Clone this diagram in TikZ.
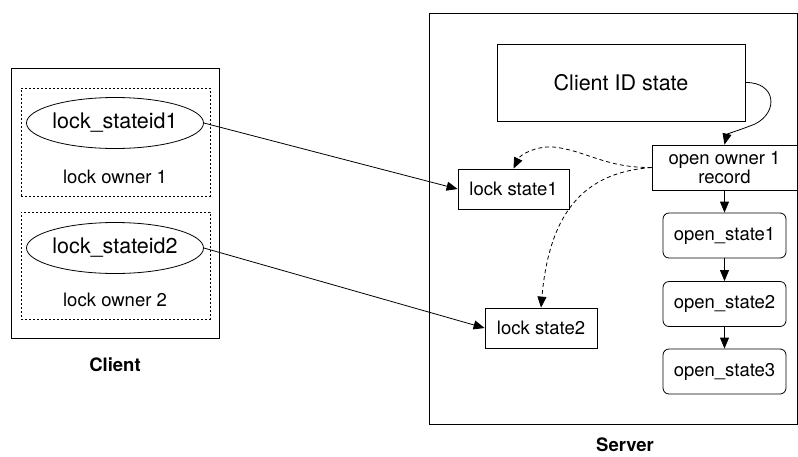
\documentclass[tikz,border=0pt]{standalone}
\usepackage{fontspec}
\setmainfont{TeX Gyre Heros}
\usepackage{tikz}
\usetikzlibrary{shapes.geometric, arrows.meta}

\begin{document}
\begin{tikzpicture}[x=1pt, y=-1pt,
  caja/.style={draw, line width=0.8pt, inner sep=0pt, font=\fontsize{18.5}{21}\selectfont},
  marco/.style={draw, line width=1pt, inner sep=0pt},
  dueno/.style={draw, dashed, dash pattern=on 2pt off 2pt, line width=0.8pt, inner sep=0pt, minimum width=189pt},
  elipse/.style={draw, ellipse, line width=0.8pt, inner sep=0pt, minimum width=177pt, minimum height=51pt, font=\fontsize{21.5}{24}\selectfont},
  texto/.style={inner sep=0pt, font=\fontsize{18.5}{21}\selectfont},
  estado/.style={caja, rounded corners=6pt, minimum width=123pt, minimum height=45pt},
  flecha/.style={-{Triangle[length=11pt, width=9pt]}, line width=0.8pt},
  flechap/.style={flecha, dashed, dash pattern=on 4pt off 3pt}]

\useasboundingbox (0,0) rectangle (798,456);

% Cliente
\node[marco, minimum width=208pt, minimum height=270pt] (client) at (115,203) {};
\node[dueno, minimum height=108pt] (owner1) at (115.5,142) {};
\node[dueno, minimum height=107pt] (owner2) at (115.5,265.5) {};
\node[elipse] (sid1) at (115,123) {lock\_stateid1};
\node[elipse] (sid2) at (115,248) {lock\_stateid2};
\node[texto] (lo1) at (115,177) {lock owner 1};
\node[texto] (lo2) at (115,300) {lock owner 2};
\node[texto, font=\fontsize{18.5}{21}\selectfont\bfseries] (clientlbl) at (115,365) {Client};

% Servidor
\node[marco, minimum width=368pt, minimum height=411pt] (server) at (613,218.5) {};
\node[texto, font=\fontsize{18.5}{21}\selectfont\bfseries] (serverlbl) at (625,445) {Server};
\node[caja, minimum width=248pt, minimum height=77pt, font=\fontsize{21.5}{24}\selectfont] (cid) at (621,82.5) {Client ID state};
\node[caja, minimum width=145pt, minimum height=45pt, align=center] (oor) at (724.5,167.5) {open owner 1\\[-2pt]record};
\node[caja, minimum width=111pt, minimum height=40pt] (ls1) at (513.5,189) {lock state1};
\node[caja, minimum width=112pt, minimum height=40pt] (ls2) at (541,328) {lock state2};
\node[estado] (os1) at (724.5,235.5) {open\_state1};
\node[estado] (os2) at (724.5,304) {open\_state2};
\node[estado] (os3) at (724.5,371.5) {open\_state3};

% Flechas
\draw[flecha] (sid1.east) -- (ls1.west);
\draw[flecha] (sid2.east) -- (ls2.west);
\draw[flecha] (cid.east) .. controls (776,82) and (779,112) .. (755,124)
  .. controls (740,130) and (727,134) .. (oor.north);
\draw[flecha] (oor.south) -- (os1.north);
\draw[flecha] (os1.south) -- (os2.north);
\draw[flecha] (os2.south) -- (os3.north);
\draw[flechap] (oor.west) .. controls (605,168) and (585,150) .. (553,147)
  .. controls (535,146) and (520,155) .. (ls1.north);
\draw[flechap] (oor.west) .. controls (590,172) and (550,205) .. (ls2.north);

\end{tikzpicture}
\end{document}
